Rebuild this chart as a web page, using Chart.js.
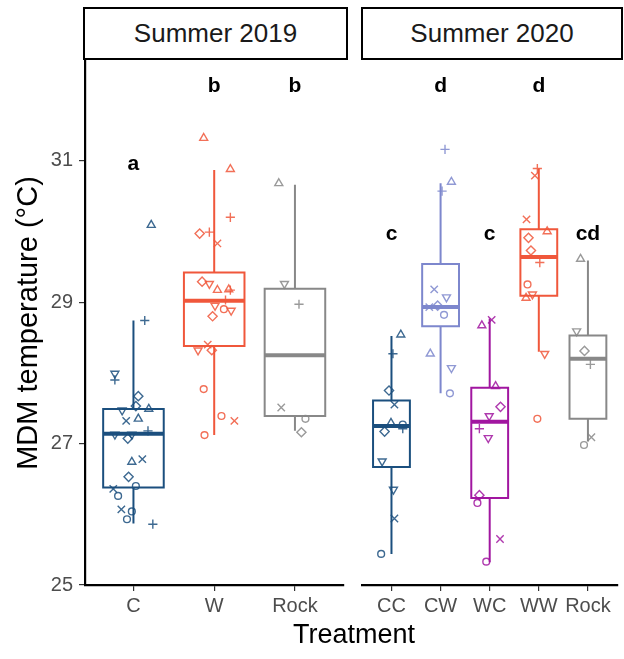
<!DOCTYPE html>
<html>
<head>
<meta charset="utf-8">
<script src="https://cdn.jsdelivr.net/npm/chart.js@4.4.1/dist/chart.umd.min.js"></script>
<style>
  body { margin: 0; background: #fff; font-family: "Liberation Sans", Arial, sans-serif; }
  #wrap { position: relative; width: 624px; height: 659px; overflow: hidden; }
  canvas { position: absolute; top: 0; }
  .strip { position: absolute; box-sizing: border-box; border: 2.5px solid #000; background: #fff;
           display: flex; align-items: center; justify-content: center; font-size: 26px; color: #1a1a1a; }
  #xtitle { position: absolute; left: 0; width: 708px; top: 619px; text-align: center; font-size: 27px; color: #000; }
</style>
</head>
<body>
<div id="wrap">
  <canvas id="c2019" width="350" height="625" style="left:0"></canvas>
  <canvas id="c2020" width="274" height="625" style="left:350px"></canvas>
  <div class="strip" style="left:83px;top:7px;width:265px;height:53px">Summer 2019</div>
  <div class="strip" style="left:361px;top:7px;width:262px;height:53px">Summer 2020</div>
  <div id="xtitle">Treatment</div>
</div>
<script>
// categories and colours
const cats2019 = ['C', 'W', 'Rock'];
const cats2020 = ['CC', 'CW', 'WC', 'WW', 'Rock'];
const col2019 = ['#1b4f7e', '#f0573b', '#888888'];
const col2020 = ['#1b4f7e', '#7d87cd', '#a116a0', '#f0573b', '#888888'];

// y axis
const yMin = 25, yMax = 32.41;
const yTicks = [25, 27, 29, 31];

// box statistics, 2019
const min2019 = [25.87, 27.12, 27.18];
const q1_2019 = [26.38, 28.38, 27.39];
const med2019 = [27.14, 29.02, 28.25];
const q3_2019 = [27.49, 29.42, 29.19];
const max2019 = [28.74, 30.87, 30.66];

// box statistics, 2020
const min2020 = [25.44, 27.71, 25.32, 28.30, 27.03];
const q1_2020 = [26.67, 28.66, 26.23, 29.09, 27.35];
const med2020 = [27.25, 28.93, 27.31, 29.64, 28.20];
const q3_2020 = [27.61, 29.54, 27.79, 30.03, 28.53];
const max2020 = [28.52, 30.68, 28.77, 30.89, 29.59];

// jittered points: values, horizontal jitter, shape (o ^ v + x d)
const y2019 = [
  [30.09, 28.74, 27.99, 27.90, 27.67, 27.53, 27.47, 27.49, 27.32, 27.35, 27.18, 27.13, 27.13, 27.07, 26.74, 26.78, 26.53, 26.40, 26.36, 26.26, 26.07, 26.04, 25.93, 25.86],
  [31.32, 30.88, 30.20, 29.97, 29.99, 29.83, 29.29, 29.26, 29.17, 29.18, 29.17, 29.03, 28.95, 28.90, 28.88, 28.80, 28.40, 28.32, 28.32, 27.77, 27.39, 27.32, 27.12],
  [30.68, 29.26, 28.97, 27.51, 27.35, 27.16]
];
const jit2019 = [
  [0.22, 0.14, -0.23, -0.23, 0.06, 0.03, -0.14, 0.19, -0.09, 0.06, 0.18, -0.23, -0.02, -0.07, -0.02, 0.11, -0.06, 0.03, -0.25, -0.19, -0.15, -0.02, -0.08, 0.24],
  [-0.13, 0.20, 0.20, -0.18, -0.06, 0.04, -0.15, -0.06, 0.04, 0.18, 0.20, 0.14, 0.01, 0.12, 0.21, -0.02, -0.08, -0.20, -0.03, -0.13, 0.09, 0.25, -0.12],
  [-0.20, -0.13, 0.05, -0.17, 0.13, 0.08]
];
const shp2019 = [
  '^+v+ddv^x^+vvd^xdoxoxoo+',
  '^^+d+xdv^^++vovdxvdooxo',
  '^v+xod'
];

const y2020 = [
  [28.54, 28.27, 27.75, 27.55, 27.29, 27.27, 27.21, 27.17, 26.75, 26.35, 25.94, 25.44],
  [31.16, 30.70, 30.57, 29.18, 29.07, 28.93, 28.95, 28.82, 28.27, 28.07, 27.71],
  [28.75, 28.67, 27.81, 27.52, 27.39, 27.21, 27.08, 26.27, 26.16, 25.65, 25.33],
  [30.89, 30.79, 30.17, 30.00, 29.91, 29.73, 29.56, 29.25, 29.11, 29.06, 28.27, 27.35],
  [29.61, 28.59, 28.31, 28.12, 27.09, 26.98]
];
const jit2020 = [
  [0.19, 0.03, -0.05, 0.06, -0.01, 0.23, 0.23, -0.14, -0.19, 0.04, 0.06, -0.21],
  [0.09, 0.22, 0.03, -0.13, 0.12, -0.23, -0.06, 0.07, -0.21, 0.22, 0.19],
  [0.04, -0.16, 0.12, 0.22, -0.01, -0.21, -0.03, -0.21, -0.25, 0.21, -0.07],
  [-0.03, -0.08, -0.25, 0.17, -0.21, -0.16, 0.02, -0.23, -0.13, -0.26, 0.12, -0.03],
  [-0.15, -0.23, -0.07, 0.05, 0.07, -0.08]
];
const shp2020 = [
  '^+dx^o+dvvxo',
  '+^+xvxdo^vo',
  'x^^dv+vdoxo',
  '+xx^dd+ov^vo',
  '^vd+xo'
];

// significance letters (baseline positions)
const let2019 = ['a', 'b', 'b'];
const letY2019 = [30.87, 31.97, 31.97];
const let2020 = ['c', 'd', 'c', 'd', 'cd'];
const letY2020 = [29.88, 31.97, 29.88, 31.97, 29.88];

const FONT = '"Liberation Sans", Arial, sans-serif';
const HALF = 0.375;

const styleOf = { o: 'circle', '^': 'triangle', v: 'triangle', '+': 'cross', x: 'crossRot', d: 'rectRot' };
const radiusOf = { o: 3.4, '^': 4.6, v: 4.6, '+': 4.6, x: 5.2, d: 4.6 };

function alpha(hex, a) {
  const n = parseInt(hex.slice(1), 16);
  return `rgba(${n >> 16},${(n >> 8) & 255},${n & 255},${a})`;
}

function line(data, color, width) {
  return { type: 'line', data, borderColor: color, borderWidth: width, pointRadius: 0,
           fill: false, tension: 0, order: 2, borderCapStyle: 'butt', borderJoinStyle: 'miter' };
}

function buildDatasets(colors, mins, q1s, meds, q3s, maxs, ys, jits, shapes) {
  const sets = [];
  colors.forEach((c, i) => {
    const x = i + 1;
    sets.push(line([{ x, y: q3s[i] }, { x, y: maxs[i] }], c, 2));
    sets.push(line([{ x, y: mins[i] }, { x, y: q1s[i] }], c, 2));
    sets.push(line([
      { x: x - HALF, y: q1s[i] }, { x: x + HALF, y: q1s[i] }, { x: x + HALF, y: q3s[i] },
      { x: x - HALF, y: q3s[i] }, { x: x - HALF, y: q1s[i] }, { x: x + HALF, y: q1s[i] }
    ], c, 2));
    sets.push(line([{ x: x - HALF, y: meds[i] }, { x: x + HALF, y: meds[i] }], c, 4));
    const sh = shapes[i].split('');
    sets.push({
      type: 'scatter',
      data: ys[i].map((v, k) => ({ x: x + jits[i][k], y: v })),
      pointStyle: sh.map(s => styleOf[s]),
      pointRotation: sh.map(s => (s === 'v' ? 180 : 0)),
      pointRadius: sh.map(s => radiusOf[s]),
      pointBorderColor: alpha(c, 0.85),
      pointBackgroundColor: 'rgba(0,0,0,0)',
      pointBorderWidth: 1.4,
      order: 1
    });
  });
  return sets;
}

const letterPlugin = {
  id: 'letters',
  afterDatasetsDraw(chart, args, opts) {
    const { ctx, scales: { x, y } } = chart;
    ctx.save();
    ctx.font = 'bold 21px ' + FONT;
    ctx.textAlign = 'center';
    ctx.textBaseline = 'alphabetic';
    ctx.fillStyle = '#000';
    opts.labels.forEach((t, i) => ctx.fillText(t, x.getPixelForValue(i + 1), y.getPixelForValue(opts.ys[i])));
    ctx.restore();
  }
};

function makeChart(id, cats, datasets, letters, letterYs, showY, pad) {
  return new Chart(document.getElementById(id), {
    type: 'scatter',
    data: { datasets },
    plugins: [letterPlugin],
    options: {
      responsive: false,
      animation: false,
      layout: { padding: pad },
      plugins: {
        legend: { display: false },
        tooltip: { enabled: false },
        letters: { labels: letters, ys: letterYs }
      },
      scales: {
        x: {
          type: 'linear',
          min: 0.4,
          max: cats.length + 0.6,
          afterBuildTicks: s => { s.ticks = cats.map((c, i) => ({ value: i + 1 })); },
          afterFit: s => { s.height = 625 - 585; },
          grid: { drawOnChartArea: false, drawTicks: true, tickLength: 6, color: '#333', lineWidth: 1.2 },
          border: { display: true, color: '#000', width: 2.2 },
          ticks: { callback: v => cats[v - 1], color: '#4d4d4d', font: { family: FONT, size: 20 }, padding: 3, maxRotation: 0, autoSkip: false }
        },
        y: {
          display: showY,
          min: yMin,
          max: yMax,
          afterBuildTicks: s => { s.ticks = yTicks.map(v => ({ value: v })); },
          afterFit: s => { s.width = showY ? 85 : 0; },
          grid: { display: showY, drawOnChartArea: false, drawTicks: true, tickLength: 6, color: '#333', lineWidth: 1.2 },
          border: { display: showY, color: '#000', width: 2.2 },
          ticks: { display: showY, color: '#4d4d4d', font: { family: FONT, size: 20 }, padding: 6 },
          title: { display: showY, text: 'MDM temperature (°C)', color: '#000', font: { family: FONT, size: 29 }, padding: { top: 12, bottom: 0 } }
        }
      }
    }
  });
}

makeChart('c2019', cats2019,
  buildDatasets(col2019, min2019, q1_2019, med2019, q3_2019, max2019, y2019, jit2019, shp2019),
  let2019, letY2019, true, { left: 0, right: 3, top: 61, bottom: 0 });

makeChart('c2020', cats2020,
  buildDatasets(col2020, min2020, q1_2020, med2020, q3_2020, max2020, y2020, jit2020, shp2020),
  let2020, letY2020, false, { left: 12, right: 0, top: 61, bottom: 0 });
</script>
</body>
</html>
